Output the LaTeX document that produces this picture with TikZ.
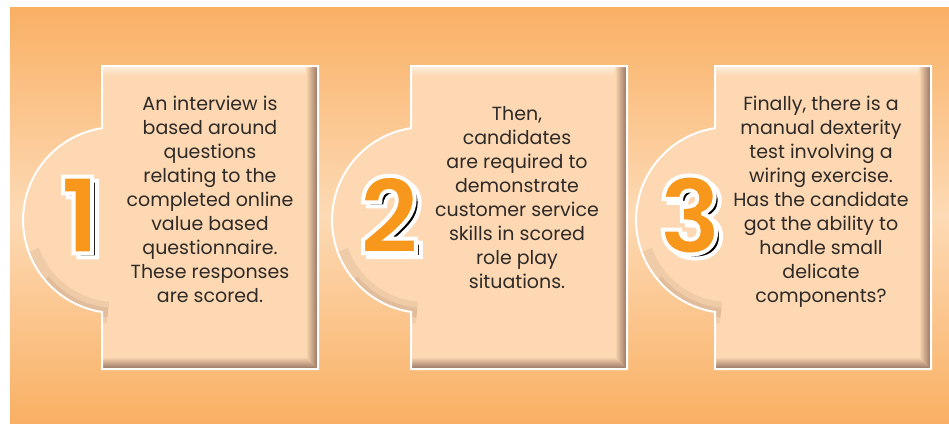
\documentclass[tikz,border=0pt]{standalone}
\usepackage{fontspec}
\setmainfont{Poppins}
\definecolor{bgorange}{HTML}{F9B064}
\definecolor{bglight}{HTML}{FDDAB5}
\definecolor{cardpeach}{HTML}{FDD8B2}
\definecolor{bevel}{HTML}{93715F}
\definecolor{numorange}{HTML}{F7981D}
\definecolor{txtgray}{HTML}{2E2A28}
% white outline round the big step numbers
\newcommand\outlined[1]{\special{pdf:literal direct 2 Tr 4 w 1 1 1 RG}#1\special{pdf:literal direct 0 Tr 0.4 w}}
\begin{document}
\begin{tikzpicture}[x=1pt,y=-1pt,
  card/.style={insert path={(#1,66) -- ++(216,0) -- ++(0,303) -- ++(-216,0) -- ++(0,-57)
      arc[start angle=98.7,end angle=261.3,radius=93] -- cycle}},
  txt/.style={align=center, text=txtgray, inner sep=0pt,
      font=\fontsize{19}{24}\selectfont},
  num/.style={inner sep=0pt, text=numorange, font=\fontsize{105}{105}\selectfont\bfseries},
  numshadow/.style={num, text=black}]
\useasboundingbox (0,0) rectangle (949,423);
% background
\shade[top color=bgorange, bottom color=bgorange, middle color=bglight] (10,7) rectangle (949,423);

% cards
\fill[cardpeach, card=102];
\begin{scope}
  \clip[card=102];
  \shade[top color=white!55!cardpeach, bottom color=cardpeach] (102,66) rectangle (318,76);
  \shade[left color=cardpeach, right color=bevel] (306,66) -- (318,66) -- (318,369) -- (306,357) -- cycle;
  \shade[top color=cardpeach, bottom color=bevel] (102,357) -- (306,357) -- (318,369) -- (102,369) -- cycle;
  \draw[bevel, opacity=.12, line width=22pt] (116,220) ++(95:93) arc[start angle=95,end angle=160,radius=93];
  \draw[bevel, opacity=.15, line width=10pt] (116,220) ++(95:93) arc[start angle=95,end angle=140,radius=93];
\end{scope}
\draw[white, line width=2pt, card=102];

\fill[cardpeach, card=411];
\begin{scope}
  \clip[card=411];
  \shade[top color=white!55!cardpeach, bottom color=cardpeach] (411,66) rectangle (627,76);
  \shade[left color=cardpeach, right color=bevel] (615,66) -- (627,66) -- (627,369) -- (615,357) -- cycle;
  \shade[top color=cardpeach, bottom color=bevel] (411,357) -- (615,357) -- (627,369) -- (411,369) -- cycle;
  \draw[bevel, opacity=.12, line width=22pt] (425,220) ++(95:93) arc[start angle=95,end angle=160,radius=93];
  \draw[bevel, opacity=.15, line width=10pt] (425,220) ++(95:93) arc[start angle=95,end angle=140,radius=93];
\end{scope}
\draw[white, line width=2pt, card=411];

\fill[cardpeach, card=715];
\begin{scope}
  \clip[card=715];
  \shade[top color=white!55!cardpeach, bottom color=cardpeach] (715,66) rectangle (931,76);
  \shade[left color=cardpeach, right color=bevel] (919,66) -- (931,66) -- (931,369) -- (919,357) -- cycle;
  \shade[top color=cardpeach, bottom color=bevel] (715,357) -- (919,357) -- (931,369) -- (715,369) -- cycle;
  \draw[bevel, opacity=.12, line width=22pt] (729,220) ++(95:93) arc[start angle=95,end angle=160,radius=93];
  \draw[bevel, opacity=.15, line width=10pt] (729,220) ++(95:93) arc[start angle=95,end angle=140,radius=93];
\end{scope}
\draw[white, line width=2pt, card=715];

% step numbers
\node[numshadow] (s1) at (85,219) {\outlined{1}};
\node[num] (n1) at (80,215) {\outlined{1}};
\node[numshadow] (s2) at (394,219) {\outlined{2}};
\node[num] (n2) at (389,215) {\outlined{2}};
\node[numshadow] (s3) at (695,219) {\outlined{3}};
\node[num] (n3) at (690,215) {\outlined{3}};

% texts
\node[txt, anchor=north] (t1) at (210,96) {An interview is\\based around\\questions\\relating to the\\completed online\\value based\\questionnaire.\\These responses\\are scored.};
\node[txt, anchor=north] (t2) at (517,106) {Then,\\candidates\\are required to\\demonstrate\\customer service\\skills in scored\\role play\\situations.};
\node[txt, anchor=north] (t3) at (821,96) {Finally, there is a\\manual dexterity\\test involving a\\wiring exercise.\\Has the candidate\\got the ability to\\handle small\\delicate\\components?};
\end{tikzpicture}
\end{document}
